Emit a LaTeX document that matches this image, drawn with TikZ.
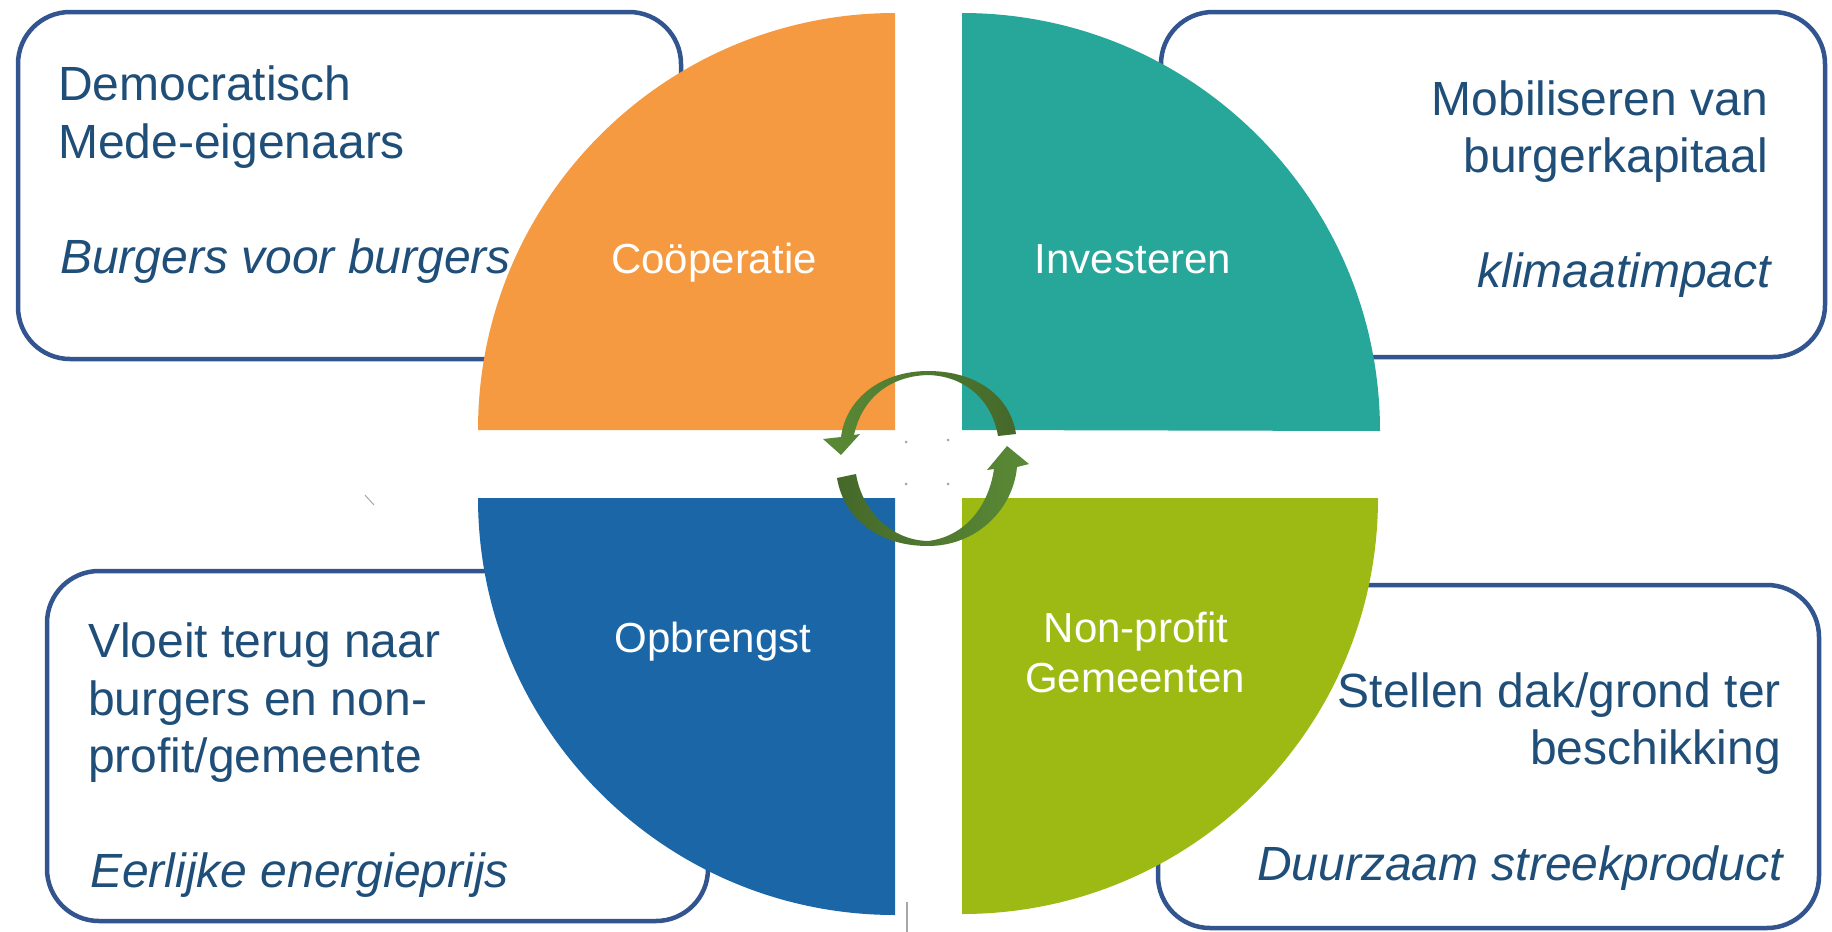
\documentclass[tikz,border=0pt]{standalone}
\usepackage{fontspec}
\setmainfont{Liberation Sans}
\definecolor{qorange}{HTML}{F59A40}
\definecolor{qteal}{HTML}{27A69A}
\definecolor{qblue}{HTML}{1B66A6}
\definecolor{qgreen}{HTML}{9DBA14}
\definecolor{boxline}{HTML}{32558F}
\definecolor{txtblue}{HTML}{1F4E79}
\definecolor{gdark}{HTML}{45682A}
\definecolor{glight}{HTML}{5A8A36}
\tikzset{
  box/.style={draw=boxline, line width=4.5pt, fill=white, rounded corners=52pt},
  bodytext/.style={inner sep=0pt, text=txtblue, font=\fontsize{48}{56}\selectfont},
  emtext/.style={bodytext, font=\fontsize{48}{56}\selectfont\itshape},
  qlabel/.style={inner sep=0pt, text=white, font=\fontsize{42}{50}\selectfont, anchor=base},
  straydot/.style={fill=gray!70},
}
\begin{document}
\begin{tikzpicture}[x=1pt, y=-1pt]
\useasboundingbox (0,0) rectangle (1832,932);
\fill[white] (0,0) rectangle (1832,932);

% text boxes
\draw[box] (18,12) rectangle (681,359);
\draw[box] (1161,12) rectangle (1825,357);
\draw[box] (47,571) rectangle (708,921);
\draw[box] (1158,585) rectangle (1819,928);

% quadrants
\fill[qorange] (895,430) -- ++(-417,0) arc[start angle=180, end angle=270, radius=417] -- cycle;
\fill[qteal]   (962,430) -- ++(0,-417) arc[start angle=270, end angle=360, radius=418] -- cycle;
\fill[qblue]   (895,498) -- ++(-417,0) arc[start angle=180, end angle=90, radius=417] -- cycle;
\fill[qgreen]  (962,498) -- ++(416,0) arc[start angle=0, end angle=90, radius=416] -- cycle;

% quadrant labels
\node[qlabel] (coop) at (714,273) {Coöperatie};
\node[qlabel] (inv)  at (1133,273) {Investeren};
\node[qlabel] (opb)  at (713,652) {Opbrengst};
\node[qlabel] (np1)  at (1136,642) {Non-profit};
\node[qlabel] (np2)  at (1135,692) {Gemeenten};

% box texts
\node[bodytext, anchor=base west] (tl1) at (58,100) {Democratisch};
\node[bodytext, anchor=base west] (tl2) at (58,158) {Mede-eigenaars};
\node[emtext, anchor=base west]   (tl3) at (60,273) {Burgers voor burgers};

\node[bodytext, anchor=base east] (tr1) at (1768,115) {Mobiliseren van};
\node[bodytext, anchor=base east] (tr2) at (1768,172) {burgerkapitaal};
\node[emtext, anchor=base east]   (tr3) at (1771,287) {klimaatimpact};

\node[bodytext, anchor=base west] (bl1) at (88,657) {Vloeit terug naar};
\node[bodytext, anchor=base west] (bl2) at (88,715) {burgers en non-};
\node[bodytext, anchor=base west] (bl3) at (88,772) {profit/gemeente};
\node[emtext, anchor=base west]   (bl4) at (90,887) {Eerlijke energieprijs};

\node[bodytext, anchor=base east] (br1) at (1781,707) {Stellen dak/grond ter};
\node[bodytext, anchor=base east] (br2) at (1781,764) {beschikking};
\node[emtext, anchor=base east]   (br3) at (1783,880) {Duurzaam streekproduct};

% circular arrows
\shade[left color=glight, right color=gdark]
  (1016,434) .. controls (1010,395) and (975,371) .. (928,371)
  .. controls (882,371) and (846,398) .. (841,437)
  -- (823,439) -- (841,455) -- (860,434) -- (854,435)
  .. controls (862,398) and (890,376) .. (928,375)
  .. controls (965,376) and (992,400) .. (998,436) -- cycle;
\shade[left color=gdark, right color=glight]
  (837,478) .. controls (844,520) and (880,546) .. (928,546)
  .. controls (976,546) and (1013,510) .. (1017,467)
  -- (1029,464) -- (1007,446) -- (987,470) -- (994,469)
  .. controls (988,510) and (962,537) .. (928,541)
  .. controls (890,540) and (862,510) .. (856,474) -- cycle;

% small stray marks
\fill[straydot] (906,442) circle (1.5);
\fill[straydot] (948,440) circle (1.5);
\fill[straydot] (906,484) circle (1.5);
\fill[straydot] (948,484) circle (1.5);
\draw[gray!70, line width=1pt] (365,495) -- (374,505);
\draw[gray!70, line width=1.5pt] (907,902) -- (907,932);
\end{tikzpicture}
\end{document}
